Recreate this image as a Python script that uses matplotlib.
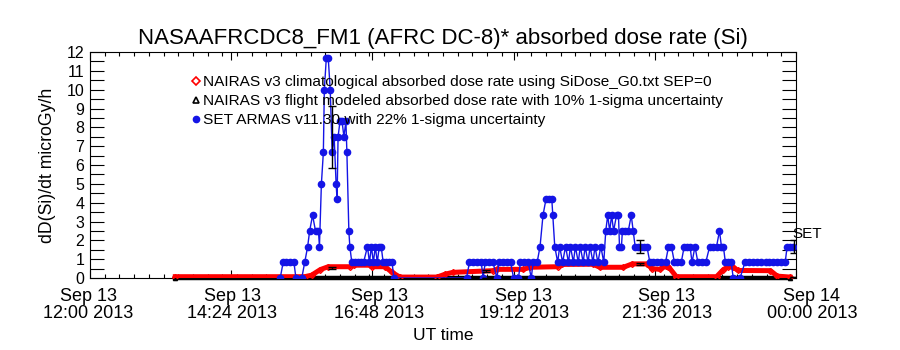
import matplotlib
matplotlib.use("Agg")
import matplotlib.pyplot as plt
from matplotlib.lines import Line2D
from matplotlib.ticker import MultipleLocator, FixedLocator
from matplotlib.transforms import ScaledTranslation
import numpy as np

plt.rcParams['font.family'] = ['Liberation Sans', 'DejaVu Sans']

# times are minutes after Sep 13 2013 12:00 UT
armas_t = [194, 197, 200, 204, 208, 210, 216, 219, 222, 224, 227, 230, 233, 234, 236, 238, 239, 241,
           243, 245, 247, 249, 251, 252, 253, 255, 257, 259, 261, 262, 264, 265, 267, 270, 273, 276,
           279, 283, 285, 287, 289, 291, 293, 295, 297, 299, 302, 305, 308, 310,
           384, 387, 391, 395, 399, 401, 403, 407, 411, 415, 417, 421, 425, 429, 432, 437, 439, 443,
           447, 450, 452, 456, 459, 462, 465, 468, 471, 472, 474, 477, 479, 482, 485, 488, 490, 493,
           495, 498, 500, 503, 505, 508, 510, 513, 515, 518, 521, 524, 526, 528, 530, 532, 534, 537,
           539, 540, 542, 543, 546, 549, 552, 554, 556, 559, 562, 565, 568, 571, 574, 578, 582, 587,
           590, 593, 596, 599, 603, 606, 609, 612, 614, 617, 620, 624, 628, 632, 635, 639, 642, 644,
           646, 648, 651, 654, 656, 663, 668, 672, 676, 680, 684, 689, 693, 697, 701, 705, 709, 711,
           714, 717]
armas_v = [0, 0.83, 0.83, 0.83, 0.83, 0, 0, 0.83, 1.67, 2.5, 3.33, 2.5, 2.5, 1.67, 5.0, 6.67, 10.0, 11.67,
           11.67, 10.0, 6.67, 7.5, 5.0, 4.17, 7.5, 8.33, 8.33, 7.5, 8.33, 6.67, 2.5, 1.67, 0.83, 0.83, 0.83, 0.83,
           0.83, 1.67, 0.83, 1.67, 0.83, 1.67, 0.83, 1.67, 1.67, 0.83, 0.83, 0.83, 0.83, 0,
           0, 0.83, 0.83, 0.83, 0.83, 0, 0.83, 0.83, 0.83, 0, 0.83, 0.83, 0.83, 0.83, 0, 0, 0.83, 0.83,
           0.83, 0, 0.83, 0.83, 1.67, 3.33, 4.17, 4.17, 4.17, 3.33, 1.67, 0.83, 1.67, 0.83, 1.67, 0.83, 1.67, 0.83,
           1.67, 0.83, 1.67, 0.83, 1.67, 0.83, 1.67, 0.83, 1.67, 0.83, 1.67, 0.83, 2.5, 3.33, 2.5, 3.33, 2.5, 3.33,
           3.33, 1.67, 1.67, 2.5, 2.5, 2.5, 3.33, 2.5, 1.67, 1.67, 1.67, 1.67, 1.67, 0.83, 0.83, 0.83, 0.83, 0.83,
           1.67, 1.67, 0.83, 0.83, 0.83, 1.67, 1.67, 1.67, 0.83, 1.67, 0.83, 0.83, 0.83, 1.67, 1.67, 1.67, 2.5, 1.67,
           1.67, 0.83, 0.83, 0.83, 0, 0, 0.83, 0.83, 0.83, 0.83, 0.83, 0.83, 0.83, 0.83, 0.83, 0.83, 0.83, 1.67,
           1.67, 1.67]

clim_t = [87, 219, 226, 235, 243, 265, 269, 286, 288, 301, 308, 316, 354, 362, 370, 411, 415, 442, 449,
          477, 481, 513, 520, 544, 553, 568, 573, 581, 587, 590, 598, 639, 646, 651, 656, 661, 694, 701, 714]
clim_v = [0.07, 0.07, 0.15, 0.45, 0.6, 0.6, 0.68, 0.68, 0.6, 0.6, 0.3, 0.05, 0.05, 0.2, 0.3, 0.39, 0.46, 0.46, 0.57,
          0.6, 0.72, 0.73, 0.57, 0.57, 0.75, 0.75, 0.5, 0.46, 0.62, 0.6, 0.07, 0.07, 0.45, 0.6, 0.57, 0.4, 0.39, 0.1, 0.05]

flight_t = [87, 714]
flight_v = [0.0, 0.0]

# error bar samples
err_t = [247, 404, 561, 718]
armas_err_v = [7.5, 0.0, 1.67, 1.67]
flight_err_v = [0.55, 0.37, 0.74, 0.05]

tick_t = [0, 144, 288, 432, 576, 720]
tick_labels = ['Sep 13\n12:00 2013', 'Sep 13\n14:24 2013', 'Sep 13\n16:48 2013',
               'Sep 13\n19:12 2013', 'Sep 13\n21:36 2013', 'Sep 14\n00:00 2013']
# IDL drifts the date labels to the right a little
label_shift_px = [-2, 1, 7, 10, 12, 16]

red = '#ff0000'
blue = '#1414e6'

fig = plt.figure(figsize=(9, 3.5), dpi=100)
ax = fig.add_axes([0.1, 0.2057, 0.7844, 0.6457])

ax.plot(flight_t, flight_v, color='black', lw=3.2, marker='^', ms=3, mfc='none', clip_on=False, zorder=2)
ax.plot(clim_t, clim_v, color=red, lw=3.6, marker='D', ms=3, mfc='none', zorder=3)
ax.plot(armas_t, armas_v, color=blue, lw=1.0, marker='o', ms=4.5, mec=blue, zorder=4)

armas_err = [0.22 * v for v in armas_err_v]
flight_err = [0.10 * v for v in flight_err_v]
ax.errorbar(err_t, armas_err_v, yerr=armas_err, fmt='none', ecolor='black', elinewidth=1, capsize=3, zorder=5)
ax.errorbar(err_t, flight_err_v, yerr=flight_err, fmt='none', ecolor='black', elinewidth=1, capsize=3, zorder=5)

ax.text(armas_t[-1] - 1, armas_v[-1] + 0.3, 'SET', fontsize=11, ha='left', va='bottom', clip_on=False)

ax.set_xlim(0, 720)
ax.set_ylim(0, 12)
ax.xaxis.set_major_locator(FixedLocator(tick_t))
ax.set_xticklabels(tick_labels, fontsize=13, linespacing=1.05)
ax.xaxis.set_minor_locator(MultipleLocator(15))
ax.yaxis.set_major_locator(MultipleLocator(1))
ax.yaxis.set_minor_locator(MultipleLocator(0.5))
ax.tick_params(axis='both', which='both', direction='in', top=True, right=True, width=0.8, color='black')
ax.tick_params(axis='x', which='major', length=6, pad=7)
ax.tick_params(axis='x', which='minor', length=3)
ax.tick_params(axis='y', which='both', length=10, labelsize=11.5, pad=4)
for s in ax.spines.values():
    s.set_linewidth(0.8)

for lab, dx in zip(ax.get_xticklabels(), label_shift_px):
    lab.set_transform(lab.get_transform() + ScaledTranslation(dx / 100, 0, fig.dpi_scale_trans))

ax.set_title('NASAAFRCDC8_FM1 (AFRC DC-8)* absorbed dose rate (Si)', fontsize=16, pad=6)
ax.set_xlabel('UT time', fontsize=12.5, labelpad=4)
ax.set_ylabel('dD(Si)/dt microGy/h', fontsize=12.7, labelpad=8)

handles = [Line2D([], [], ls='none', marker='D', ms=4, mfc='none', mec=red, mew=1.2),
           Line2D([], [], ls='none', marker='^', ms=4, mfc='none', mec='black', mew=1.2),
           Line2D([], [], ls='none', marker='o', ms=4.5, color=blue)]
labels = ['NAIRAS v3 climatological absorbed dose rate using SiDose_G0.txt SEP=0',
          'NAIRAS v3 flight modeled absorbed dose rate with 10% 1-sigma uncertainty',
          'SET ARMAS v11.30 with 22% 1-sigma uncertainty']
ax.legend(handles, labels, loc='upper left', bbox_to_anchor=(0.145, 0.898), frameon=False,
          fontsize=11.1, handlelength=0.5, handletextpad=0.2, labelspacing=0.33, borderpad=0, borderaxespad=0)

fig.savefig('out.png', dpi=100)
